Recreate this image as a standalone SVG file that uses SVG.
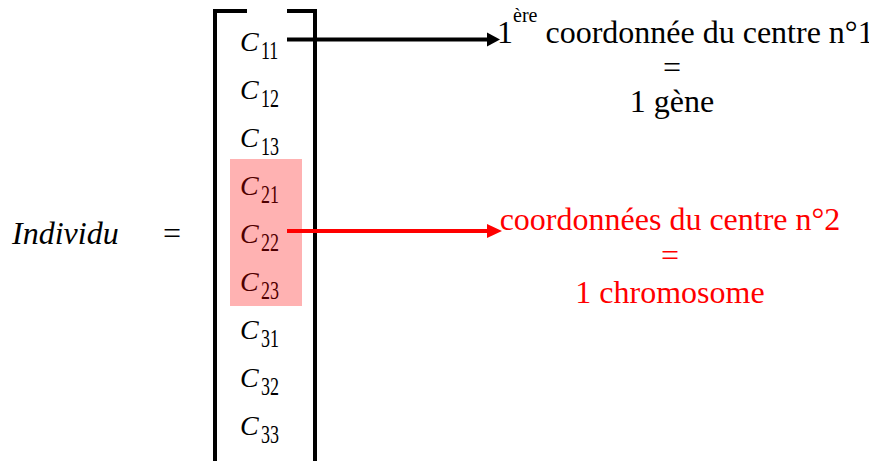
<svg xmlns="http://www.w3.org/2000/svg" width="869" height="461" viewBox="0 0 869 461">
<rect width="869" height="461" fill="#fff"/>
<g id="individu" font-family="Liberation Serif" font-size="32">
<text x="12" y="244" font-family="Liberation Serif" font-style="italic">Individu</text>
<text x="163" y="244" font-family="Liberation Serif">=</text>
</g>
<g id="vector">
<path d="M247,11 H215 V461 M287,11 H315 V461" fill="none" stroke="#000" stroke-width="4"/>
<g font-size="28" font-style="italic" font-family="Liberation Serif">
<text x="240" y="51" font-family="Liberation Serif">C</text>
<text x="240" y="99" font-family="Liberation Serif">C</text>
<text x="240" y="147" font-family="Liberation Serif">C</text>
<text x="240" y="195" font-family="Liberation Serif">C</text>
<text x="240" y="243" font-family="Liberation Serif">C</text>
<text x="240" y="291" font-family="Liberation Serif">C</text>
<text x="240" y="339" font-family="Liberation Serif">C</text>
<text x="240" y="387" font-family="Liberation Serif">C</text>
<text x="240" y="435" font-family="Liberation Serif">C</text>
</g>
<g font-size="18" font-family="Liberation Serif">
<text transform="translate(261,59) scale(1,1.35)" font-family="Liberation Serif">11</text>
<text transform="translate(261,107) scale(1,1.35)" font-family="Liberation Serif">12</text>
<text transform="translate(261,155) scale(1,1.35)" font-family="Liberation Serif">13</text>
<text transform="translate(261,203) scale(1,1.35)" font-family="Liberation Serif">21</text>
<text transform="translate(261,251) scale(1,1.35)" font-family="Liberation Serif">22</text>
<text transform="translate(261,299) scale(1,1.35)" font-family="Liberation Serif">23</text>
<text transform="translate(261,347) scale(1,1.35)" font-family="Liberation Serif">31</text>
<text transform="translate(261,395) scale(1,1.35)" font-family="Liberation Serif">32</text>
<text transform="translate(261,443) scale(1,1.35)" font-family="Liberation Serif">33</text>
</g>
<rect x="230" y="159" width="72" height="147" fill="#ff0000" fill-opacity="0.3"/>
</g>
<g id="connectors">
<line x1="287" y1="39.5" x2="490" y2="39.5" stroke="#000" stroke-width="4"/>
<polygon points="487,32.5 500,39.5 487,46.5" fill="#000"/>
<line x1="287" y1="231" x2="490" y2="231" stroke="#ff0000" stroke-width="4"/>
<polygon points="487,224 502,231 487,238" fill="#ff0000"/>
</g>
<g id="gene" font-size="32" fill="#000" font-family="Liberation Serif">
<text x="497" y="43" font-family="Liberation Serif">1<tspan font-size="20" dy="-21">ère</tspan><tspan dy="21"> coordonnée du centre n°1</tspan></text>
<text x="672" y="78" text-anchor="middle" font-family="Liberation Serif">=</text>
<text x="672" y="112" text-anchor="middle" font-family="Liberation Serif">1 gène</text>
</g>
<g id="chromosome" font-size="32" fill="#ff0000" font-family="Liberation Serif">
<text x="670" y="230" text-anchor="middle" font-family="Liberation Serif">coordonnées du centre n°2</text>
<text x="670" y="266" text-anchor="middle" font-family="Liberation Serif">=</text>
<text x="670" y="303" text-anchor="middle" font-family="Liberation Serif">1 chromosome</text>
</g>
</svg>
